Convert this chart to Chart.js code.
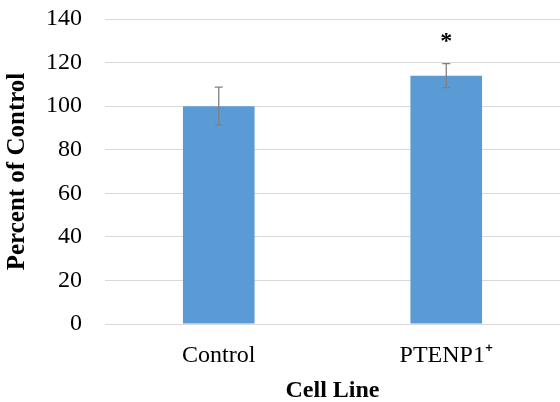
<!DOCTYPE html>
<html>
<head>
<meta charset="utf-8">
<script src="https://cdn.jsdelivr.net/npm/chart.js@4.4.1/dist/chart.umd.min.js"></script>
<style>
  html, body { margin: 0; padding: 0; background: #fff; }
  #wrap { width: 560px; height: 402px; }
</style>
</head>
<body>
<div id="wrap"><canvas id="chart" width="560" height="402"></canvas></div>
<script>
const categories = ['Control', 'PTENP1\u207A'];
const percentValues = [100, 114];
const errorValues = [8.7, 5.5];
const significance = ['', '*'];
const yTicks = [0, 20, 40, 60, 80, 100, 120, 140];

const serif = '"Liberation Serif", "Times New Roman", serif';

// draws error bars and the significance star from the y scale
const errorBarPlugin = {
  id: 'errorBars',
  afterDatasetsDraw(chart) {
    const ctx = chart.ctx;
    const meta = chart.getDatasetMeta(0);
    const y = chart.scales.y;
    ctx.save();
    meta.data.forEach((bar, i) => {
      const v = percentValues[i];
      const e = errorValues[i];
      const top = y.getPixelForValue(v + e);
      const bot = y.getPixelForValue(v - e);
      ctx.strokeStyle = '#808080';
      ctx.lineWidth = 1.3;
      ctx.beginPath();
      ctx.moveTo(bar.x, top);
      ctx.lineTo(bar.x, bot);
      ctx.moveTo(bar.x - 4, top);
      ctx.lineTo(bar.x + 4, top);
      ctx.moveTo(bar.x - 4, bot);
      ctx.lineTo(bar.x + 4, bot);
      ctx.stroke();
      if (significance[i]) {
        ctx.fillStyle = '#000';
        ctx.font = 'bold 24px ' + serif;
        ctx.textAlign = 'center';
        ctx.textBaseline = 'middle';
        ctx.fillText(significance[i], bar.x, top - 22);
      }
    });
    ctx.restore();
  }
};

new Chart(document.getElementById('chart'), {
  type: 'bar',
  data: {
    labels: categories,
    datasets: [{
      data: percentValues,
      backgroundColor: '#5B9BD5',
      borderWidth: 0,
      categoryPercentage: 1,
      barPercentage: 0.315
    }]
  },
  options: {
    responsive: false,
    animation: false,
    layout: { padding: { top: 19, right: -5, left: 0, bottom: 0 } },
    plugins: { legend: { display: false }, tooltip: { enabled: false } },
    scales: {
      x: {
        grid: { display: false, drawTicks: false },
        border: { color: '#d9d9d9', width: 1 },
        ticks: { color: '#000', font: { family: serif, size: 24 }, padding: 17 },
        title: { display: true, text: 'Cell Line', color: '#000', font: { family: serif, size: 24, weight: 'bold' }, padding: { top: 2, bottom: -3 } },
        afterFit(scale) {
          scale.height = 78;
          scale.paddingRight = 0;
        }
      },
      y: {
        min: 0,
        max: 140,
        afterBuildTicks(scale) { scale.ticks = yTicks.map(v => ({ value: v })); },
        grid: { color: '#d9d9d9', lineWidth: 1, drawTicks: false },
        border: { display: false },
        ticks: { color: '#000', font: { family: serif, size: 24 }, padding: 23 },
        title: { display: true, text: 'Percent of Control', color: '#000', font: { family: serif, size: 25, weight: 'bold' }, padding: { top: 3, bottom: 0 } },
        afterFit(scale) {
          scale.width = 105;
          scale.paddingTop = 0;
          scale.paddingBottom = 0;
        }
      }
    }
  },
  plugins: [errorBarPlugin]
});
</script>
</body>
</html>
